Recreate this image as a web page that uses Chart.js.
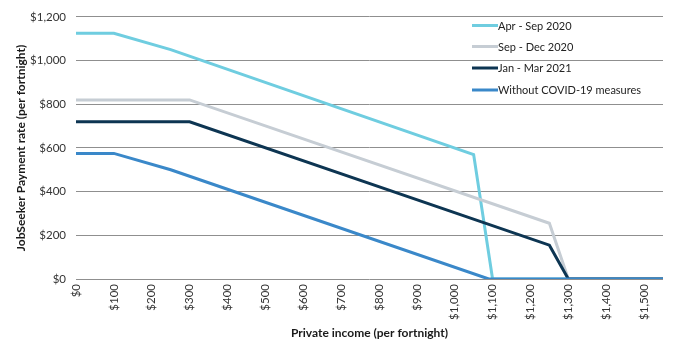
<!DOCTYPE html>
<html>
<head>
<meta charset="utf-8">
<script src="https://cdn.jsdelivr.net/npm/chart.js@4/dist/chart.umd.min.js"></script>
<style>
html,body{margin:0;padding:0;background:#fff;}
#wrap{position:relative;width:676px;height:352px;}
</style>
</head>
<body>
<div id="wrap"><canvas id="c" width="676" height="352"></canvas></div>
<script>
const seriesNames = ['Apr - Sep 2020', 'Sep - Dec 2020', 'Jan - Mar 2021', 'Without COVID-19 measures'];
const seriesColors = ['#6fcde0', '#c6cdd4', '#0d3552', '#3a88c9'];

const aprSepIncome = [0, 100, 250, 1050, 1100, 1550];
const aprSepRate   = [1125, 1125, 1050, 570, 0, 0];

const sepDecIncome = [0, 300, 1250, 1300, 1550];
const sepDecRate   = [820, 820, 255, 0, 0];

const janMarIncome = [0, 300, 1250, 1300, 1550];
const janMarRate   = [720, 720, 155, 0, 0];

const withoutIncome = [0, 100, 250, 1090, 1550];
const withoutRate   = [575, 575, 500, 0, 0];

const yTicks = [0, 200, 400, 600, 800, 1000, 1200];
const xTickStep = 100;

function pts(xs, ys){ return xs.map((x,i)=>({x:x, y:ys[i]})); }

const allSeries = [
  pts(aprSepIncome, aprSepRate),
  pts(sepDecIncome, sepDecRate),
  pts(janMarIncome, janMarRate),
  pts(withoutIncome, withoutRate)
];
const drawOrder = [3, 2, 1, 0];

function money(v){ return '$' + v.toLocaleString('en-US'); }

const FONT = 'Lato, "Open Sans", sans-serif';

const legendPlugin = {
  id: 'insideLegend',
  afterDraw(chart){
    const ctx = chart.ctx;
    ctx.save();
    ctx.font = '11px ' + FONT;
    ctx.textBaseline = 'middle';
    ctx.textAlign = 'left';
    const x0 = 472, ys = [25.5, 46.5, 68, 90];
    chart.data.datasets.forEach((ds, i) => {
      const y = ys[i];
      ctx.strokeStyle = ds.borderColor;
      ctx.lineWidth = 3;
      ctx.beginPath();
      ctx.moveTo(x0, y);
      ctx.lineTo(x0 + 26, y);
      ctx.stroke();
      ctx.fillStyle = '#222';
      ctx.fillText(ds.label, x0 + 26, y + 0.5);
    });
    ctx.restore();
  }
};

new Chart(document.getElementById('c'), {
  type: 'line',
  data: {
    datasets: seriesNames.map((name, i) => ({
      label: name,
      data: allSeries[i],
      borderColor: seriesColors[i],
      backgroundColor: seriesColors[i],
      borderWidth: 3,
      pointRadius: 0,
      tension: 0,
      fill: false,
      order: drawOrder[i]
    }))
  },
  options: {
    responsive: false,
    animation: false,
    layout: { padding: { top: 13, right: 13, left: 0, bottom: 0 } },
    plugins: {
      legend: { display: false },
      tooltip: { enabled: false }
    },
    scales: {
      x: {
        type: 'linear',
        min: 0,
        max: 1550,
        afterFit(scale){ scale.height = 73; },
        grid: { display: false, drawTicks: false },
        border: { display: false },
        ticks: {
          stepSize: xTickStep,
          includeBounds: false,
          autoSkip: false,
          maxRotation: 90,
          minRotation: 90,
          padding: 5,
          color: '#333',
          font: { family: FONT, size: 11.5 },
          callback: (v) => money(v)
        },
        title: {
          display: true,
          text: 'Private income (per fortnight)',
          color: '#1a1a1a',
          font: { family: FONT, size: 12, weight: 'bold' },
          padding: { top: 0, bottom: 12 }
        }
      },
      y: {
        min: 0,
        max: 1200,
        afterFit(scale){ scale.width = 76; },
        afterBuildTicks(scale){ scale.ticks = yTicks.map(v => ({value: v})); },
        grid: { color: '#8f8f8f', lineWidth: 1, drawTicks: false },
        border: { display: false },
        ticks: {
          padding: 10,
          color: '#333',
          font: { family: FONT, size: 11.5 },
          callback: (v) => money(v)
        },
        title: {
          display: true,
          text: 'JobSeeker Payment rate (per fortnight)',
          color: '#1a1a1a',
          font: { family: FONT, size: 12, weight: 'bold' },
          padding: { top: 14, bottom: 0 }
        }
      }
    }
  },
  plugins: [legendPlugin]
});
</script>
</body>
</html>
